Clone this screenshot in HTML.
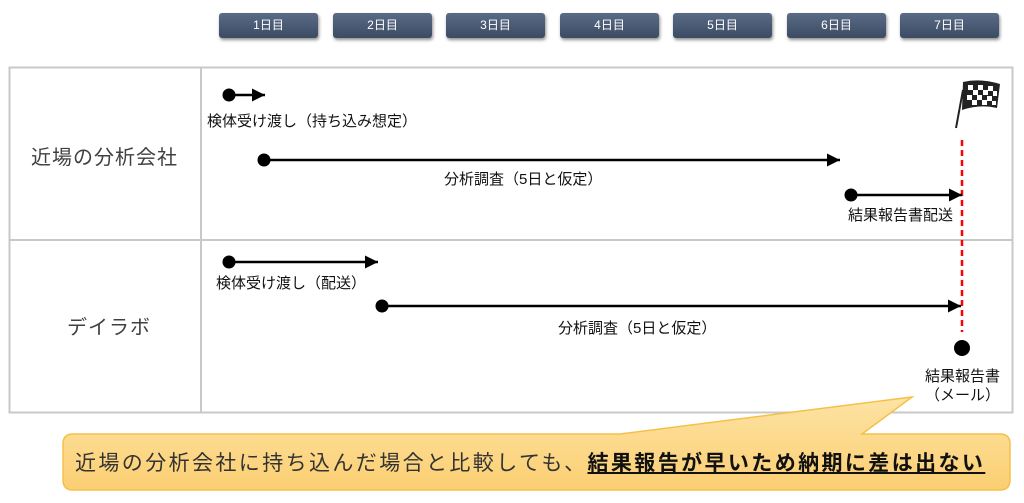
<!DOCTYPE html>
<html><head><meta charset="utf-8"><style>
body{margin:0;width:1024px;height:503px;background:#fff;position:relative;overflow:hidden;font-family:"Liberation Sans","Noto Sans CJK JP",sans-serif;}
.d{position:absolute;top:13px;width:99px;height:25px;border-radius:3px;background:linear-gradient(#5a6b86,#3c4b63);color:#fff;font-size:12px;line-height:25px;text-align:center;box-shadow:1px 2px 3px rgba(0,0,0,.45);}
.t{position:absolute;font-size:15px;color:#111;white-space:nowrap;}
.r{position:absolute;font-size:20px;letter-spacing:1px;color:#404040;white-space:nowrap;}
</style></head><body>
<div class="d" style="left:219px">1日目</div>
<div class="d" style="left:333px">2日目</div>
<div class="d" style="left:446px">3日目</div>
<div class="d" style="left:560px">4日目</div>
<div class="d" style="left:673px">5日目</div>
<div class="d" style="left:787px">6日目</div>
<div class="d" style="left:900px">7日目</div>
<svg width="1024" height="503" style="position:absolute;left:0;top:0">
<defs><marker id="a" markerWidth="13" markerHeight="13" refX="12" refY="6" orient="auto" markerUnits="userSpaceOnUse" viewBox="0 0 12 12"><path d="M0,0L12,6L0,12z" fill="#000"/></marker>
<linearGradient id="g" x1="0" y1="0" x2="0" y2="1"><stop offset="0" stop-color="#fde3a4"/><stop offset="1" stop-color="#fbcf72"/></linearGradient></defs>
<rect x="9.5" y="67.5" width="1003" height="345" fill="none" stroke="#c8c8c8" stroke-width="2"/>
<line x1="201" y1="67" x2="201" y2="412" stroke="#c8c8c8" stroke-width="2"/>
<line x1="9" y1="240" x2="1012" y2="240" stroke="#c8c8c8" stroke-width="2"/>
<line x1="962" y1="140" x2="962" y2="332" stroke="#f00" stroke-width="2.5" stroke-dasharray="6,4"/>
<g stroke="#000" stroke-width="2.5">
<line x1="229" y1="95" x2="265" y2="95" marker-end="url(#a)"/>
<line x1="264" y1="160" x2="840" y2="160" marker-end="url(#a)"/>
<line x1="851" y1="195" x2="962" y2="195" marker-end="url(#a)"/>
<line x1="229" y1="262" x2="378" y2="262" marker-end="url(#a)"/>
<line x1="382" y1="306" x2="961" y2="306" marker-end="url(#a)"/>
</g>
<g fill="#000"><circle cx="229" cy="95" r="6.5"/><circle cx="264" cy="160" r="6.5"/><circle cx="851" cy="195" r="6.5"/><circle cx="229" cy="262" r="6.5"/><circle cx="382" cy="306" r="6.5"/><circle cx="962" cy="348" r="8"/></g>
<line x1="956" y1="128" x2="963" y2="90" stroke="#222" stroke-width="2"/>
<path d="M963,82 Q980,78 1000,84 L997,108 Q980,104 962,110Z" fill="#222"/>
<g fill="#fff">
<rect x="968" y="85" width="5" height="5"/><rect x="978" y="85" width="5" height="5"/><rect x="988" y="86" width="5" height="5"/>
<rect x="973" y="90" width="5" height="5"/><rect x="983" y="90" width="5" height="5"/><rect x="993" y="91" width="4" height="5"/>
<rect x="967" y="95" width="5" height="5"/><rect x="977" y="95" width="5" height="5"/><rect x="987" y="96" width="5" height="5"/>
<rect x="972" y="100" width="5" height="5"/><rect x="982" y="100" width="5" height="5"/><rect x="992" y="101" width="4" height="4"/></g>
<path d="M73,434 L620,434 L912,397 L862,434 L1000,434 Q1010,434 1010,444 L1010,480 Q1010,490 1000,490 L73,490 Q63,490 63,480 L63,444 Q63,434 73,434Z" fill="url(#g)" stroke="#f5c04a" stroke-width="1.5"/>
</svg>
<div class="r" style="left:31px;top:141px">近場の分析会社</div>
<div class="r" style="left:67px;top:311px">デイラボ</div>
<div class="t" style="left:207px;top:110px">検体受け渡し（持ち込み想定）</div>
<div class="t" style="left:444px;top:168px">分析調査（5日と仮定）</div>
<div class="t" style="left:848px;top:204px">結果報告書配送</div>
<div class="t" style="left:216px;top:272px">検体受け渡し（配送）</div>
<div class="t" style="left:558px;top:317px">分析調査（5日と仮定）</div>
<div class="t" style="left:925px;top:365px">結果報告書</div>
<div class="t" style="left:925px;top:384px">（メール）</div>
<div class="r" style="left:75px;top:447px;font-size:21px;letter-spacing:2.4px;color:#333">近場の分析会社に持ち込んだ場合と比較しても、<b style="color:#111;text-decoration:underline">結果報告が早いため納期に差は出ない</b></div>
</body></html>
